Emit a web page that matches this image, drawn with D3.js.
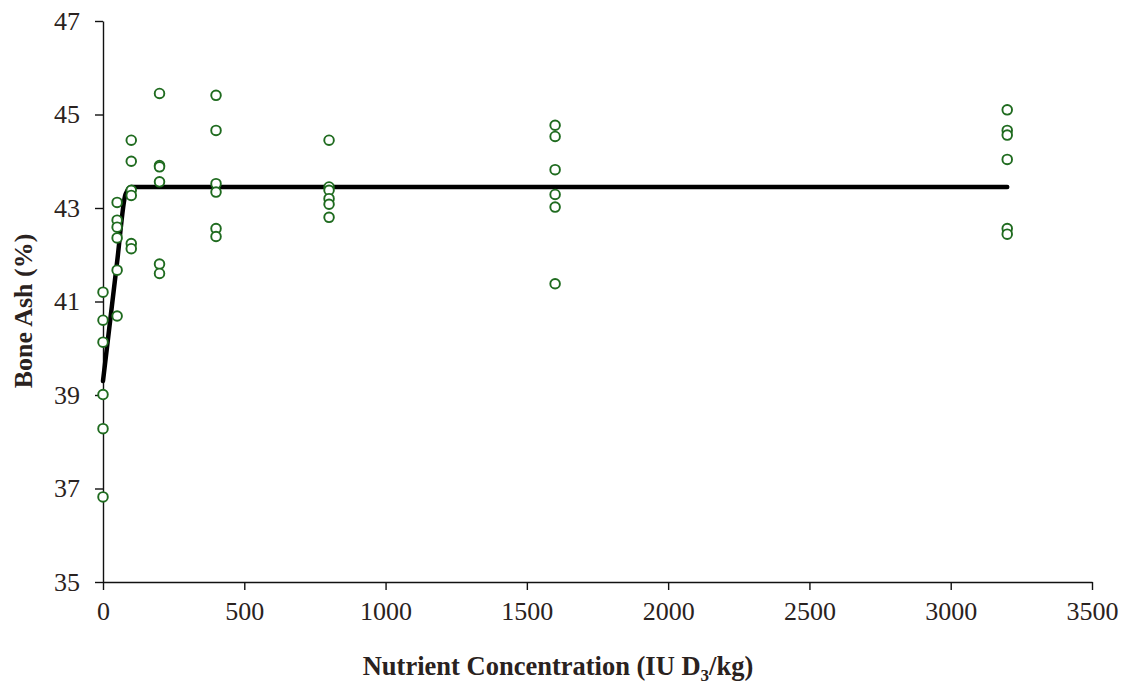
<!DOCTYPE html>
<html>
<head>
<meta charset="utf-8">
<script src="https://cdn.jsdelivr.net/npm/d3@7"></script>
<style>
  html, body { margin: 0; padding: 0; background: #fff; }
  svg { display: block; font-family: "Liberation Serif", "DejaVu Serif", serif; }
</style>
</head>
<body>
<div id="chart"></div>
<script>
// observed bone ash (%) by dietary D3 level (IU/kg)
const doseLevels = [0, 50, 100, 200, 400, 800, 1600, 3200];
const ashValues = [
    [41.20, 40.60, 40.13, 39.01, 38.28, 36.82],
    [43.12, 42.74, 42.59, 42.36, 41.67, 40.69],
    [44.45, 44.00, 43.38, 43.27, 42.24, 42.13],
    [45.45, 43.91, 43.88, 43.56, 41.80, 41.60],
    [45.41, 44.66, 43.52, 43.34, 42.56, 42.39],
    [44.45, 43.45, 43.38, 43.20, 43.08, 42.80],
    [44.77, 44.53, 43.82, 43.29, 43.02, 41.38],
    [45.10, 44.66, 44.56, 44.04, 42.56, 42.44]
];

// fitted broken-line response
const fitX = [0, 50, 80, 100, 3200];
const fitY = [39.30, 41.85, 43.30, 43.45, 43.45];

const xTicks = [0, 500, 1000, 1500, 2000, 2500, 3000, 3500];
const yTicks = [35, 37, 39, 41, 43, 45, 47];

const W = 1130, H = 685;
const M = { top: 21, right: 38, bottom: 103, left: 103 };
const iW = W - M.left - M.right;
const iH = H - M.top - M.bottom;

const POINT_COLOR = '#1f6b1f';
const TEXT_COLOR = '#2a2220';

const x = d3.scaleLinear().domain([0, 3500]).range([0, iW]);
const y = d3.scaleLinear().domain([35, 47]).range([iH, 0]);

const svg = d3.select('#chart').append('svg')
    .attr('width', W)
    .attr('height', H);

const g = svg.append('g').attr('transform', `translate(${M.left},${M.top})`);

function styleAxis(sel) {
    sel.select('.domain').attr('stroke', '#111').attr('stroke-width', 1.4);
    sel.selectAll('.tick line').attr('stroke', '#111').attr('stroke-width', 1.4);
    sel.selectAll('.tick text')
        .attr('fill', TEXT_COLOR)
        .attr('font-size', '26px')
        .attr('font-family', '"Liberation Serif", serif');
}

g.append('g')
    .attr('transform', `translate(0,${iH})`)
    .call(d3.axisBottom(x).tickValues(xTicks).tickSize(8).tickSizeOuter(0).tickPadding(12).tickFormat(d3.format('d')))
    .call(styleAxis);

g.append('g')
    .call(d3.axisLeft(y).tickValues(yTicks).tickSize(8).tickSizeOuter(0).tickPadding(15).tickFormat(d3.format('d')))
    .call(styleAxis);

// fitted line
const line = d3.line()
    .x((d, i) => x(fitX[i]))
    .y(d => y(d))
    .curve(d3.curveMonotoneX);

g.append('path')
    .datum(fitY)
    .attr('fill', 'none')
    .attr('stroke', '#000')
    .attr('stroke-width', 4.5)
    .attr('stroke-linecap', 'round')
    .attr('d', line);

// observations
const points = doseLevels.flatMap((dose, i) => ashValues[i].map(v => ({ dose, v })));

g.selectAll('.obs')
    .data(points)
    .join('circle')
    .attr('class', 'obs')
    .attr('cx', d => x(d.dose))
    .attr('cy', d => y(d.v))
    .attr('r', 4.8)
    .attr('fill', '#fff')
    .attr('stroke', POINT_COLOR)
    .attr('stroke-width', 1.9);

// axis titles
svg.append('text')
    .attr('transform', 'translate(32,311) rotate(-90)')
    .attr('text-anchor', 'middle')
    .attr('font-size', '26px')
    .attr('font-weight', 'bold')
    .attr('fill', TEXT_COLOR)
    .text('Bone Ash (%)');

const xTitle = svg.append('text')
    .attr('x', 558)
    .attr('y', 675)
    .attr('text-anchor', 'middle')
    .attr('font-size', '26.5px')
    .attr('font-weight', 'bold')
    .attr('fill', TEXT_COLOR);
xTitle.append('tspan').text('Nutrient Concentration (IU D');
xTitle.append('tspan').attr('font-size', '17px').attr('dy', 6).text('3');
xTitle.append('tspan').attr('dy', -6).text('/kg)');
</script>
</body>
</html>
